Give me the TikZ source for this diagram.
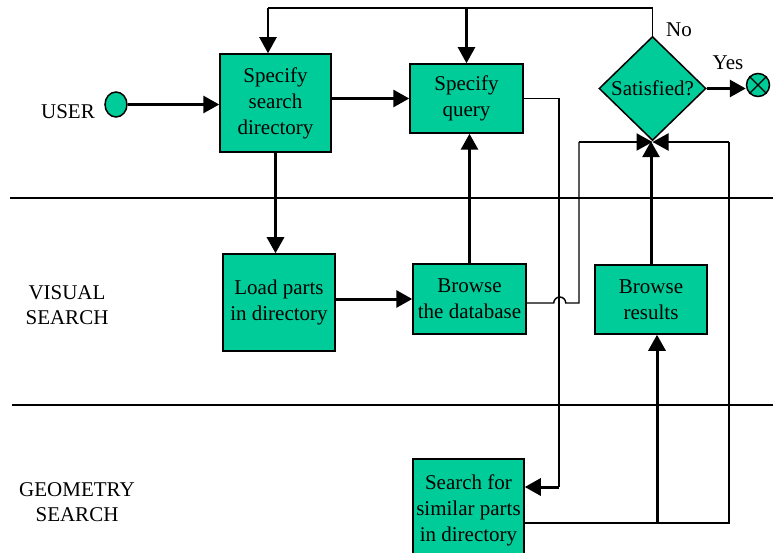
\documentclass[tikz,border=0pt]{standalone}
\usepackage{fontspec}
\setmainfont{Liberation Serif}
\usetikzlibrary{arrows.meta,shapes.geometric,positioning}

\definecolor{boxgreen}{RGB}{0,204,153}

\tikzset{
  box/.style={draw,line width=1.5pt,fill=boxgreen,align=center,inner sep=0pt,
    font=\fontsize{21}{26}\selectfont},
  lbl/.style={align=center,inner sep=0pt,font=\fontsize{21}{25}\selectfont},
  link/.style={line width=1.4pt},
  flow/.style={line width=3pt,-{Triangle[length=16pt,width=17pt]}},
  flowb/.style={line width=2.2pt,-{Triangle[length=16pt,width=17pt]}},
}

\begin{document}
\begin{tikzpicture}[x=1pt,y=-1pt]
      \useasboundingbox (0,0) rectangle (773,553);

      % lanes
      \draw[link] (10,198) -- (773,198);
      \draw[link] (12,405) -- (773,405);

      \node[lbl] (user) at (68,112) {USER};
      \node[lbl] (vis) at (67,305) {VISUAL\\SEARCH};
      \node[lbl] (geo) at (77,502) {GEOMETRY\\SEARCH};

      % steps
      \node[draw,ellipse,line width=1.5pt,fill=boxgreen,inner sep=0pt,
        minimum width=22pt,minimum height=25pt] (start) at (116,104.5) {};
      \node[box,minimum width=111pt,minimum height=98pt] (sdir) at (275.5,103) {Specify\\search\\directory};
      \node[box,minimum width=113pt,minimum height=69pt] (query) at (466.5,98.5) {Specify\\query};
      \node[box,diamond,minimum width=107pt,minimum height=104pt] (sat) at (652.5,88.5) {Satisfied?};
      \node[draw,circle,line width=1.5pt,fill=boxgreen,inner sep=0pt,
        minimum size=23pt] (stop) at (758,85) {};
      \draw[line width=1.2pt] (stop.north west) -- (stop.south east);
      \draw[line width=1.2pt] (stop.north east) -- (stop.south west);

      \node[box,minimum width=112pt,minimum height=97pt] (load) at (279,302.5) {Load parts\\in directory};
      \node[box,minimum width=113pt,minimum height=70pt] (bdb) at (469.5,299) {Browse\\the database};
      \node[box,minimum width=112pt,minimum height=69pt] (brs) at (651,299.5) {Browse\\results};
      \node[box,minimum width=111pt,minimum height=102pt] (srch) at (468.5,510) {Search for\\similar parts\\in directory};

      \node[lbl] (no) at (679,30) {No};
      \node[lbl] (yes) at (728,63) {Yes};

      % main flow
      \draw[flow] (start) -- (start -| sdir.west);
      \draw[flow] (sdir.east |- query) -- (query.west);
      \draw[flow] (sdir.south) -- (sdir.south |- load.north);
      \draw[flow] (load.east |- bdb) -- (bdb.west);
      \draw[flow] (bdb.north) -- (bdb.north |- query.south);
      \draw[flow] (sat.east) -- (sat.east -| stop.west);

      % not satisfied: back to the top
      \coordinate (fb) at (268,8);
      \draw[link] (sat.north) |- (fb);
      \draw[flowb] (fb) -- (fb |- sdir.north);
      \draw[flowb] (fb -| query.north) -- (query.north);

      % query to geometry search
      \coordinate (qd) at (559,487);
      \draw[link] (query.east) -| (qd);
      \draw[flow] (qd) -- (qd -| srch.east);

      % database hits back to the check, hopping the query line
      \coordinate (bj) at (579,142);
      \draw[link] ([yshift=-4pt]bdb.east) -- ++(27,0)
        arc[start angle=180,end angle=360,radius=6] -| (bj);
      \draw[flowb] (bj) -- (bj -| sat.south);

      \draw[flow] (brs.north) -- (brs.north |- sat.south);

      % geometry results
      \coordinate (sr) at (729,142);
      \draw[link] ([yshift=-13pt]srch.east) -| (sr);
      \draw[flowb] (sr) -- (sr -| sat.south);
      \coordinate (sj) at (657,523);
      \draw[flow] (sj) -- (sj |- brs.south);
\end{tikzpicture}
\end{document}
